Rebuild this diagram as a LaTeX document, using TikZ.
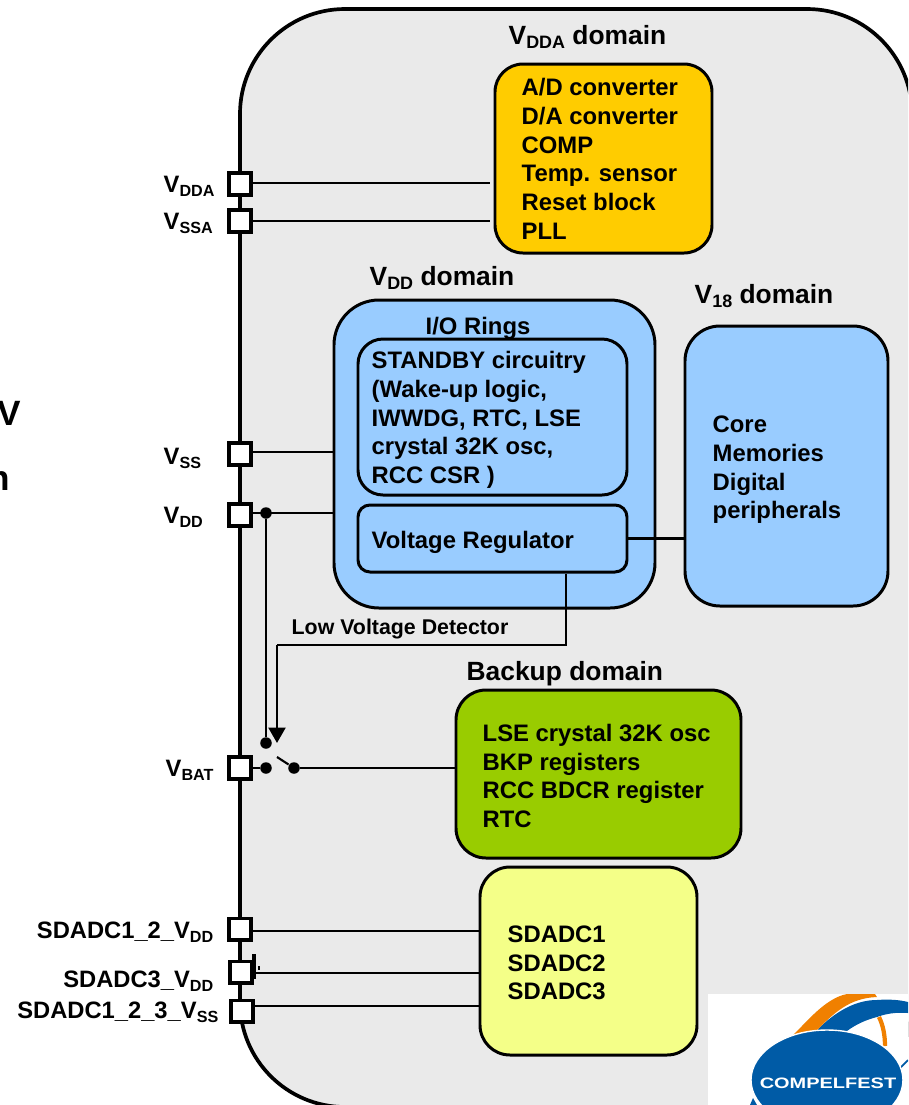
\documentclass[tikz,border=0pt]{standalone}
\usepackage{fontspec}
\setmainfont{Liberation Sans}
\usetikzlibrary{positioning,arrows.meta}
\definecolor{chipgray}{HTML}{EAEAEA}
\definecolor{analogorange}{HTML}{FFCC00}
\definecolor{coreblue}{HTML}{99CCFF}
\definecolor{backupgreen}{HTML}{99CC00}
\definecolor{sdadcyellow}{HTML}{F4FF88}
\definecolor{logoblue}{HTML}{005BA6}
\definecolor{logoorange}{HTML}{F08000}
\newcommand{\sub}[1]{\raisebox{-1.3pt}{\scalebox{0.68}{#1}}}
\tikzset{
  domain/.style={draw=black,line width=0.85pt,rounded corners=#1,inner sep=0pt},
  txt/.style={anchor=west,align=left,inner sep=0pt,font=\fontsize{6.78pt}{8.16pt}\selectfont\bfseries},
  title/.style={anchor=base west,inner sep=0pt,font=\fontsize{7.5pt}{9pt}\selectfont\bfseries},
  pin/.style={inner sep=0pt,font=\fontsize{6.75pt}{8pt}\selectfont\bfseries},
  pad/.style={draw=black,fill=white,line width=1pt,minimum size=21.5pt*0.2845,inner sep=0pt},
  wire/.style={line width=0.6pt},
  dot/.style={circle,fill=black,minimum size=11.5pt*0.2845,inner sep=0pt}
}
\begin{document}
\begin{tikzpicture}[x=0.01cm,y=-0.01cm]
\useasboundingbox (0,0) rectangle (908,1105);
\clip (0,0) rectangle (908,1105);
% chip outline
\draw[fill=chipgray,line width=1.05pt,rounded corners=105*0.01cm] (240,9) rectangle (912,1107);
% text cut off at the left edge
\node[anchor=base east,inner sep=0pt,font=\fontsize{10pt}{12pt}\selectfont\bfseries] (cutv) at (22,425) {V};
\node[anchor=base east,inner sep=0pt,font=\fontsize{10pt}{12pt}\selectfont\bfseries] (cutn) at (11,490) {n};
% domains
\node[domain=28*0.01cm,fill=analogorange,minimum width=217*0.01cm,minimum height=189*0.01cm] (vdda) at (603.5,158.5) {};
\node[domain=45*0.01cm,fill=coreblue,minimum width=321*0.01cm,minimum height=308*0.01cm] (vdd) at (494.5,454) {};
\node[domain=35*0.01cm,fill=coreblue,minimum width=203*0.01cm,minimum height=280*0.01cm] (veight) at (786.5,466) {};
\node[domain=25*0.01cm,fill=coreblue,minimum width=269*0.01cm,minimum height=156*0.01cm] (standby) at (492.5,417) {};
\node[domain=12*0.01cm,fill=coreblue,minimum width=269*0.01cm,minimum height=67*0.01cm] (regulator) at (492.5,538.5) {};
\node[domain=30*0.01cm,fill=backupgreen,minimum width=285*0.01cm,minimum height=168*0.01cm] (backup) at (598.5,774) {};
\node[domain=30*0.01cm,fill=sdadcyellow,minimum width=217*0.01cm,minimum height=188*0.01cm] (sdadc) at (588.5,961) {};
% titles
\node[title] (tvdda) at (508,44) {V\sub{DDA} domain};
\node[title] (tvdd) at (369,285) {V\sub{DD} domain};
\node[title] (tveight) at (694,303) {V\sub{18} domain};
\node[title] (tbackup) at (466,680) {Backup domain};
% box texts
\node[txt] (lvdda) at (521,159) {A/D converter\\D/A converter\\COMP\\Temp. sensor\\Reset block\\PLL};
\node[txt] (lrings) at (425,328) {I/O Rings};
\node[txt] (lstandby) at (371,420) {STANDBY circuitry\\(Wake-up logic,\\IWWDG, RTC, LSE\\crystal 32K osc,\\RCC CSR )};
\node[txt] (lregulator) at (371,542) {Voltage Regulator};
\node[txt] (lveight) at (712,470) {Core\\Memories\\Digital\\peripherals};
\node[txt] (lbackup) at (482,776) {LSE crystal 32K osc\\BKP registers\\RCC BDCR register\\RTC};
\node[txt] (lsdadc) at (507,963) {SDADC1\\SDADC2\\SDADC3};
\node[pin,anchor=base west,font=\fontsize{6.07pt}{7pt}\selectfont\bfseries] (llvd) at (291,634) {Low Voltage Detector};
% pads
\node[pad] (pvdda) at (240,184) {};
\node[pad] (pvssa) at (240,221) {};
\node[pad] (pvss) at (240,454) {};
\node[pad] (pvddd) at (240,515) {};
\node[pad] (pvbat) at (240,768) {};
\node[pad] (psone) at (240,929) {};
\node[pad] (pstwo) at (241,972) {};
\node[pad] (psss) at (242,1011) {};
% pin names
\node[pin,anchor=base west] (nvdda) at (163,192) {V\sub{DDA}};
\node[pin,anchor=base west] (nvssa) at (163,229) {V\sub{SSA}};
\node[pin,anchor=base west] (nvss) at (163,464) {V\sub{SS}};
\node[pin,anchor=base west] (nvddd) at (163,523) {V\sub{DD}};
\node[pin,anchor=base west] (nvbat) at (165,776) {V\sub{BAT}};
\node[pin,anchor=base east] (nsone) at (214,938) {SDADC1\_2\_V\sub{DD}};
\node[pin,anchor=base east] (nstwo) at (214,987) {SDADC3\_V\sub{DD}};
\node[pin,anchor=base east] (nsss) at (219,1018) {SDADC1\_2\_3\_V\sub{SS}};
% connectors
\coordinate (evdda) at (490,183);
\coordinate (evssa) at (490,221);
\coordinate (evss) at (334,452);
\coordinate (evdd) at (334,513);
\draw[wire] (pvdda.east |- evdda) -- (evdda);
\draw[wire] (pvssa.east) -- (evssa);
\draw[wire] (pvss.east |- evss) -- (evss);
\draw[wire] (pvddd.east |- evdd) -- (evdd);
\draw[wire] (regulator.east) -- (veight.west |- regulator);
% switch
\node[dot] (dsrc) at (266,513) {};
\node[dot] (dtop) at (266,743) {};
\node[dot] (dbat) at (266,768) {};
\node[dot] (dout) at (294,768) {};
\coordinate (lever) at (277,757);
\coordinate (lvdbend) at (566,645);
\coordinate (lvdturn) at (277,645);
\coordinate (lvdtip) at (277,743);
\draw[line width=0.8pt] (dsrc) -- (dtop);
\draw[wire] (pvbat.east) -- (dbat);
\draw[wire] (lever) -- (dout);
\draw[line width=0.75pt] (dout) -- (backup.west |- dout);
\draw[wire] (regulator.south -| lvdbend) -- (lvdbend) -- (lvdturn);
\draw[line width=0.8pt,-{Triangle[length=4.4pt,width=4.8pt]}] (lvdturn) -- (lvdtip);
% sdadc supply lines
\draw[wire] (psone.east |- 0,931) -- (sdadc.west |- 0,931);
\draw[wire] (254,973) -- (sdadc.west |- 0,973);
\draw[wire] (psss.east |- 0,1006) -- (sdadc.west |- 0,1006);
\draw[line width=1pt] (254,954) -- (254,979);
\draw[line width=0.5pt] (259,966) -- (259,970);
% logo
\fill[white] (708,994) rectangle (908,1105);
\fill[logoblue] (817,1030) .. controls (835,1012) and (855,1000) .. (877,1000) .. controls (890,999) and (900,1000) .. (908,1002) -- (908,1013) .. controls (895,1012) and (885,1014) .. (877,1017) .. controls (865,1020) and (855,1025) .. (847,1031) -- cycle;
\fill[logoorange] (793,1035) .. controls (805,1024) and (825,998) .. (847,994) -- (875,994) -- (877,997) .. controls (850,998) and (835,1012) .. (817,1030) -- cycle;
\draw[logoorange,line width=1.2pt] (879,1017) .. controls (883,1025) and (885,1035) .. (885,1046);
\draw[logoblue,line width=0.5pt] (900,1068) -- (908,1060);
\fill[logoblue] (753,1098) -- (757,1105) -- (750,1105) -- cycle;
\draw[white,line width=0.4pt,fill=logoblue] (827,1080) ellipse (76 and 50);
\node[inner sep=0pt,text=white,font=\fontsize{4.3pt}{5pt}\selectfont\bfseries] (logotext) at (828,1083) {\scalebox{1.32}[1]{COMPELFEST}};
\end{tikzpicture}
\end{document}
